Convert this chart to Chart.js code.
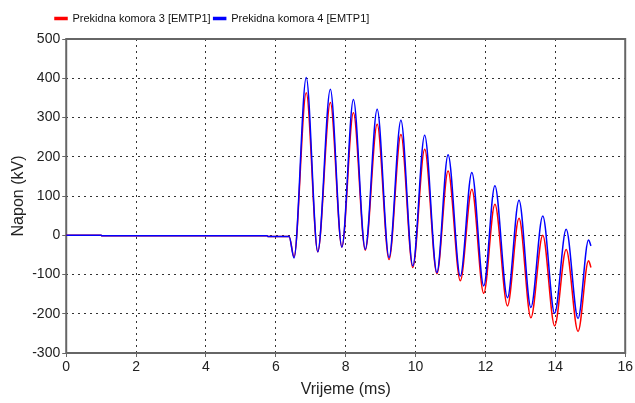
<!DOCTYPE html>
<html>
<head>
<meta charset="utf-8">
<script src="https://cdn.jsdelivr.net/npm/chart.js@4.4.1/dist/chart.umd.min.js"></script>
<style>
html,body{margin:0;padding:0;background:#fff;}
#wrap{width:635px;height:403px;}
</style>
</head>
<body>
<div id="wrap"><canvas id="c" width="635" height="403"></canvas></div>
<script>
// time (ms)
const timeMs = [0, 1.0, 1.02, 5.75, 5.77, 6.38, 6.52, 6.87, 7.2, 7.56, 7.89, 8.22, 8.56, 8.9, 9.24, 9.58, 9.92, 10.26, 10.61, 10.93, 11.28, 11.61, 11.95, 12.27, 12.63, 12.96, 13.3, 13.64, 13.98, 14.31, 14.65, 14.95, 15.02];
// Prekidna komora 3 [EMTP1] (kV)
const komora3 = [0, 0, -1.5, -1.5, -3, -3, -55, 363, -42, 338, -30, 312, -38, 283, -62, 257, -82, 219, -98, 164, -116, 117, -148, 79, -180, 43, -210, 0, -231, -36, -245, -65, -82];
// Prekidna komora 4 [EMTP1] (kV)
const komora4 = [0, 0, -1.5, -1.5, -3, -3, -58, 402, -42, 372, -30, 346, -36, 321, -57, 293, -78, 255, -95, 205, -104, 160, -129, 126, -159, 89, -184, 49, -199, 15, -212, -12, -27];
const seriesNames = ['Prekidna komora 3 [EMTP1]', 'Prekidna komora 4 [EMTP1]'];
const xTicks = [0, 2, 4, 6, 8, 10, 12, 14, 16];
const yTicks = [-300, -200, -100, 0, 100, 200, 300, 400, 500];

const toPts = (vals) => timeMs.map((t, i) => ({x: t, y: vals[i]}));

Chart.defaults.font.family = '"Liberation Sans", Arial, sans-serif';
Chart.defaults.color = '#222';

const framePlugin = {
  id: 'frame',
  beforeDatasetsDraw(chart) {
    const {ctx, chartArea: a} = chart;
    ctx.save();
    ctx.strokeStyle = '#666';
    ctx.lineWidth = 2;
    ctx.strokeRect(a.left, a.top, a.right - a.left, a.bottom - a.top);
    ctx.restore();
  }
};
const legendShift = {
  id: 'legendShift',
  beforeInit(chart) {
    const lg = chart.legend;
    if (lg) {
      const fit = lg.fit;
      lg.fit = function () { fit.call(this); this.height += 5; };
    }
  },
  afterLayout(chart) {
    if (chart.legend) chart.legend.left = 52;
  }
};

new Chart(document.getElementById('c'), {
  type: 'line',
  data: {
    datasets: [
      {label: seriesNames[0], order: 1, data: toPts(komora3), borderColor: '#ff0000', backgroundColor: '#ff0000', borderWidth: 1.5, pointRadius: 0, cubicInterpolationMode: 'monotone'},
      {label: seriesNames[1], order: 0, data: toPts(komora4), borderColor: '#0000ff', backgroundColor: '#0000ff', borderWidth: 1.5, pointRadius: 0, cubicInterpolationMode: 'monotone'}
    ]
  },
  options: {
    responsive: false,
    animation: false,
    layout: {padding: {top: 10, right: 9, left: 9, bottom: 4}},
    plugins: {
      legend: {
        display: true, position: 'top', align: 'start',
        labels: {boxWidth: 12, boxHeight: 2, padding: 3, color: '#111', font: {size: 11},
          sort: (a, b) => a.datasetIndex - b.datasetIndex}
      },
      tooltip: {enabled: false}
    },
    scales: {
      x: {
        type: 'linear', min: 0, max: 16,
        afterBuildTicks: (s) => { s.ticks = xTicks.map(v => ({value: v})); },
        ticks: {font: {size: 14}, color: '#222', padding: 2, maxRotation: 0},
        grid: {color: '#333', lineWidth: 1, drawTicks: true, tickLength: 4, tickColor: '#666', tickWidth: 1},
        border: {display: false, dash: [2, 4]},
        title: {display: true, text: 'Vrijeme (ms)', font: {size: 16}, color: '#222', padding: {top: 2, bottom: 0}}
      },
      y: {
        type: 'linear', min: -300, max: 500,
        afterBuildTicks: (s) => { s.ticks = yTicks.map(v => ({value: v})); },
        ticks: {font: {size: 14}, color: '#222', padding: 2},
        grid: {color: '#333', lineWidth: 1, drawTicks: true, tickLength: 4, tickColor: '#666', tickWidth: 1},
        border: {display: false, dash: [2, 4]},
        title: {display: true, text: 'Napon (kV)', font: {size: 16}, color: '#222', padding: {top: 0, bottom: 2}}
      }
    }
  },
  plugins: [framePlugin, legendShift]
});
</script>
</body>
</html>
